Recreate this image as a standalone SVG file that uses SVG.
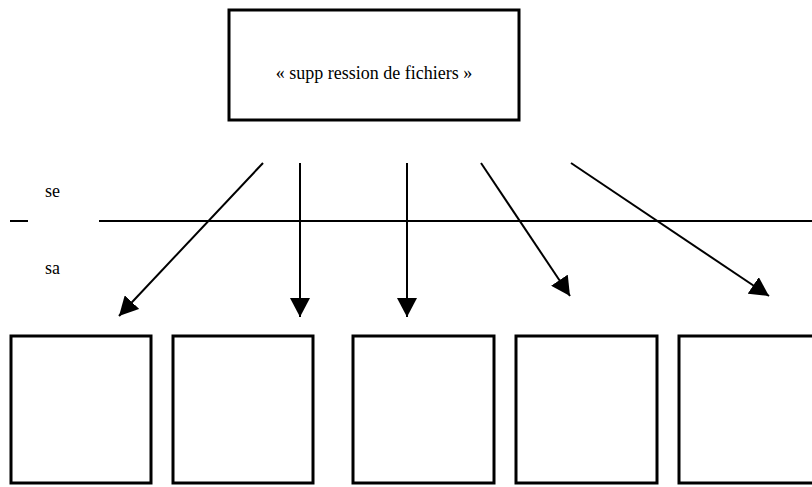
<svg xmlns="http://www.w3.org/2000/svg" width="812" height="487" viewBox="0 0 812 487">
<defs>
<marker id="ah" markerWidth="19" markerHeight="20" refX="19" refY="10" orient="auto" markerUnits="userSpaceOnUse">
<path d="M0,0 L19,10 L0,20 Z" fill="#000"/>
</marker>
<style>
.box{fill:#fff;stroke:#000;stroke-width:3}
.ln{stroke:#000;stroke-width:2;fill:none}
.arr{stroke:#000;stroke-width:2;fill:none;marker-end:url(#ah)}
.t{font-size:18px;fill:#000}
</style>
</defs>
<rect width="812" height="487" fill="#fff"/>
<g id="process">
<rect class="box" x="229" y="10" width="290" height="110"/>
<text class="t" font-family="Liberation Serif, DejaVu Serif, serif" x="374" y="79" text-anchor="middle">« supp ression de fichiers »</text>
</g>
<g id="boundary">
<line class="ln" x1="10" y1="221" x2="28" y2="221"/>
<line class="ln" x1="99" y1="221" x2="812" y2="221"/>
<text class="t" font-family="Liberation Serif, DejaVu Serif, serif" x="45" y="197">se</text>
<text class="t" font-family="Liberation Serif, DejaVu Serif, serif" x="45" y="274">sa</text>
</g>
<g id="connectors">
<line class="arr" x1="263" y1="163" x2="119" y2="316"/>
<line class="arr" x1="300" y1="163" x2="300" y2="317"/>
<line class="arr" x1="407" y1="163" x2="407" y2="317"/>
<line class="arr" x1="481" y1="163" x2="570" y2="296"/>
<line class="arr" x1="571" y1="163" x2="769" y2="296"/>
</g>
<g id="file1"><rect class="box" x="11" y="336" width="140" height="147"/></g>
<g id="file2"><rect class="box" x="173" y="336" width="140" height="147"/></g>
<g id="file3"><rect class="box" x="353" y="336" width="141" height="147"/></g>
<g id="file4"><rect class="box" x="516" y="336" width="141" height="147"/></g>
<g id="file5"><rect class="box" x="679" y="336" width="141" height="147"/></g>
</svg>
